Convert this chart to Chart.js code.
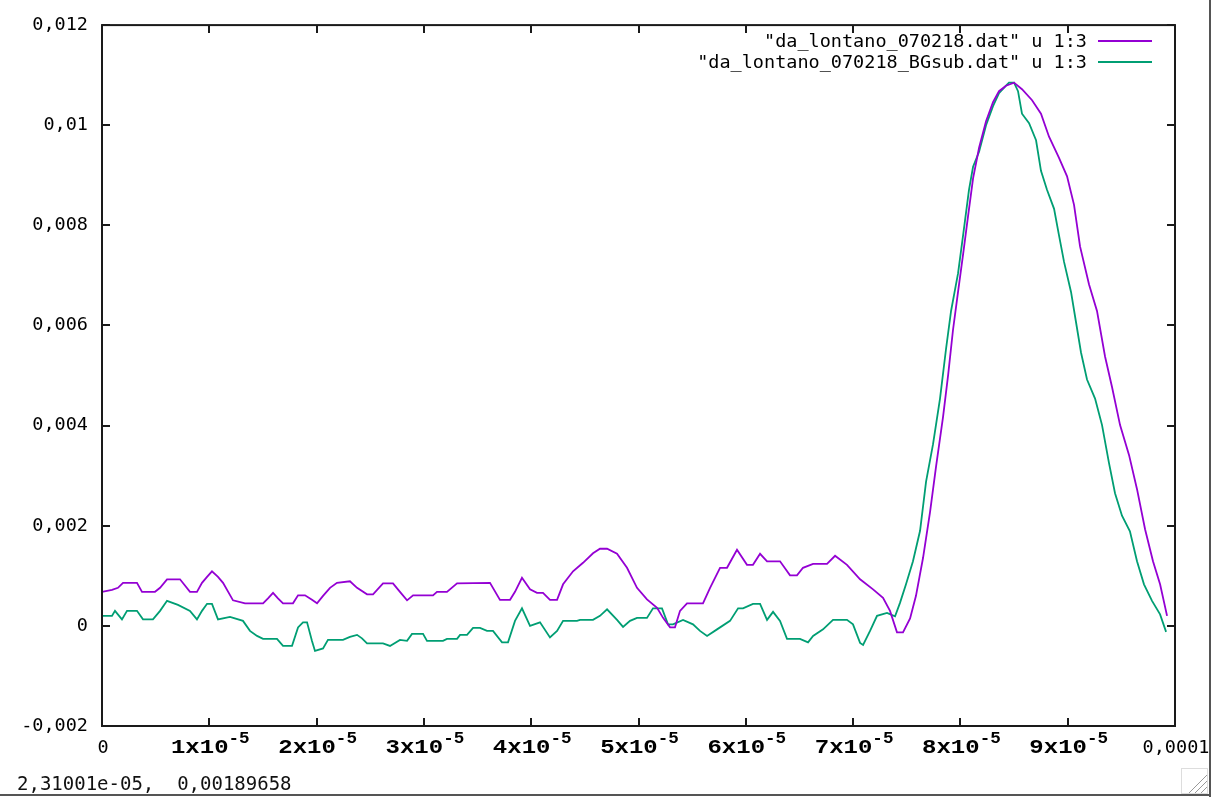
<!DOCTYPE html>
<html>
<head>
<meta charset="utf-8">
<script src="https://cdn.jsdelivr.net/npm/chart.js@4.4.1/dist/chart.umd.min.js"></script>
<style>
  html, body { margin: 0; padding: 0; background: #fff; }
  #wrap { width: 1217px; height: 797px; position: relative; }
</style>
</head>
<body>
<div id="wrap"><canvas id="c" width="1217" height="797"></canvas></div>
<script>
// ---- data (x in microseconds, y in signal units) ----
const seriesNames = ['"da_lontano_070218.dat" u 1:3', '"da_lontano_070218_BGsub.dat" u 1:3'];
const seriesColors = ['#9400d3', '#009e73'];

const xPurple = [0.00,0.93,1.49,1.96,3.26,3.73,4.94,5.41,6.06,7.27,8.20,8.85,9.32,9.79,10.25,10.81,11.28,12.21,13.33,15.01,15.47,15.94,16.40,16.87,17.80,18.27,18.92,19.57,20.04,20.60,21.25,21.90,23.11,23.77,24.70,25.26,26.19,27.12,27.77,28.43,28.99,30.85,31.22,32.15,33.09,36.16,37.09,38.03,38.49,39.14,39.89,40.54,41.10,41.75,42.41,42.97,43.90,44.83,45.76,46.41,47.07,48.00,48.93,49.86,50.79,51.73,52.29,52.94,53.40,53.87,54.52,56.01,56.67,57.60,58.25,59.18,60.11,60.67,61.33,61.98,63.19,64.12,64.77,65.33,66.27,67.57,68.32,69.43,70.65,71.86,72.79,73.44,74.09,74.65,75.31,75.86,76.52,77.17,77.73,78.38,78.85,79.31,79.78,80.25,80.71,81.18,81.74,82.39,83.04,83.60,84.25,85.00,85.74,86.68,87.51,88.26,89.19,89.94,90.59,91.15,91.99,92.73,93.48,94.13,94.88,95.72,96.46,97.21,97.95,98.61,99.26];
const yPurple = [0.00068,0.00072,0.00076,0.00086,0.00086,0.00068,0.00068,0.00076,0.00093,0.00093,0.00068,0.00068,0.00086,0.00098,0.00109,0.00098,0.00086,0.00051,0.00045,0.00045,0.00055,0.00066,0.00055,0.00045,0.00045,0.00061,0.00061,0.00052,0.00045,0.00060,0.00076,0.00086,0.00089,0.00076,0.00063,0.00063,0.00085,0.00085,0.00068,0.00051,0.00061,0.00061,0.00068,0.00068,0.00085,0.00086,0.00052,0.00052,0.00068,0.00096,0.00073,0.00066,0.00066,0.00052,0.00052,0.00083,0.00109,0.00126,0.00145,0.00154,0.00154,0.00144,0.00116,0.00076,0.00053,0.00036,0.00016,-0.00003,-0.00003,0.00030,0.00045,0.00045,0.00076,0.00116,0.00116,0.00152,0.00122,0.00122,0.00144,0.00129,0.00129,0.00101,0.00101,0.00116,0.00124,0.00124,0.00140,0.00122,0.00093,0.00073,0.00056,0.00030,-0.00013,-0.00013,0.00015,0.00060,0.00136,0.00227,0.00318,0.00417,0.00500,0.00591,0.00667,0.00742,0.00818,0.00894,0.00955,0.01008,0.01046,0.01068,0.01079,0.01085,0.01072,0.01050,0.01023,0.00977,0.00935,0.00898,0.00841,0.00758,0.00682,0.00629,0.00538,0.00477,0.00401,0.00341,0.00273,0.00193,0.00129,0.00083,0.00020];

const xGreen = [0.00,0.93,1.21,1.86,2.33,3.26,3.82,4.75,5.41,6.06,7.08,8.20,8.85,9.32,9.79,10.25,10.81,11.93,13.14,13.79,14.45,15.01,16.31,16.87,17.71,18.27,18.73,19.11,19.57,19.85,20.60,21.06,22.46,23.11,23.77,24.23,24.70,26.19,26.84,27.77,28.43,28.89,29.92,30.29,31.78,32.15,33.09,33.37,34.02,34.58,35.23,35.88,36.44,37.28,37.84,38.49,39.14,39.89,40.82,41.75,42.41,42.97,44.27,44.55,45.76,46.41,47.07,48.00,48.56,49.21,49.86,50.79,51.35,52.19,52.75,53.22,54.15,55.08,55.73,56.39,57.32,58.53,59.28,59.74,60.67,61.33,61.98,62.54,63.19,63.84,65.05,65.80,66.27,67.20,68.13,69.43,69.99,70.65,70.93,71.58,72.23,73.16,73.91,74.37,74.93,75.58,76.24,76.80,77.45,78.10,78.66,79.13,79.78,80.25,80.80,81.18,81.74,82.39,83.04,83.60,84.25,84.53,85.00,85.37,85.74,86.40,87.05,87.51,88.07,88.73,89.19,89.66,90.31,90.78,91.24,91.80,92.55,93.20,93.85,94.41,95.06,95.80,96.46,97.11,97.86,98.61,99.17];
const yGreen = [0.00020,0.00020,0.00030,0.00013,0.00030,0.00030,0.00013,0.00013,0.00030,0.00050,0.00042,0.00030,0.00013,0.00030,0.00044,0.00044,0.00013,0.00018,0.00010,-0.00010,-0.00020,-0.00026,-0.00026,-0.00040,-0.00040,-0.00003,0.00007,0.00007,-0.00030,-0.00050,-0.00045,-0.00028,-0.00028,-0.00022,-0.00018,-0.00025,-0.00035,-0.00035,-0.00040,-0.00028,-0.00030,-0.00016,-0.00016,-0.00030,-0.00030,-0.00026,-0.00026,-0.00018,-0.00018,-0.00004,-0.00004,-0.00010,-0.00010,-0.00033,-0.00033,0.00010,0.00035,0.00000,0.00007,-0.00023,-0.00010,0.00010,0.00010,0.00012,0.00012,0.00020,0.00033,0.00012,-0.00002,0.00010,0.00016,0.00016,0.00035,0.00035,0.00003,0.00003,0.00012,0.00003,-0.00010,-0.00020,-0.00007,0.00010,0.00035,0.00035,0.00044,0.00044,0.00012,0.00028,0.00010,-0.00026,-0.00026,-0.00033,-0.00020,-0.00007,0.00012,0.00012,0.00003,-0.00034,-0.00038,-0.00010,0.00020,0.00026,0.00019,0.00046,0.00083,0.00129,0.00190,0.00288,0.00363,0.00454,0.00553,0.00629,0.00704,0.00780,0.00871,0.00917,0.00947,0.01000,0.01038,0.01064,0.01079,0.01085,0.01085,0.01068,0.01023,0.01004,0.00970,0.00909,0.00871,0.00833,0.00780,0.00727,0.00667,0.00606,0.00546,0.00492,0.00454,0.00401,0.00325,0.00265,0.00220,0.00189,0.00129,0.00083,0.00050,0.00023,-0.00012];

const yTickValues = [-0.002, 0, 0.002, 0.004, 0.006, 0.008, 0.01, 0.012];
const yTickLabels = ['-0,002', '0', '0,002', '0,004', '0,006', '0,008', '0,01', '0,012'];
const xTickValues = [0, 10, 20, 30, 40, 50, 60, 70, 80, 90, 100];
const xTickMantissa = ['0', '1x10', '2x10', '3x10', '4x10', '5x10', '6x10', '7x10', '8x10', '9x10', '0,0001'];
const xTickExponent = ['', '-5', '-5', '-5', '-5', '-5', '-5', '-5', '-5', '-5', ''];
const statusText = '2,31001e-05,  0,00189658';

const FONT = '"DejaVu Sans Mono", monospace';

function toPoints(xs, ys) { return xs.map((x, i) => ({ x: x, y: ys[i] })); }

const frame = {
  id: 'gnuplotFrame',
  afterDraw(chart) {
    const ctx = chart.ctx;
    const a = chart.chartArea;
    const xs = chart.scales.x, ys = chart.scales.y;
    ctx.save();
    // border
    ctx.strokeStyle = '#1a1a1a';
    ctx.lineWidth = 2;
    ctx.strokeRect(a.left, a.top, a.right - a.left, a.bottom - a.top);
    // ticks
    ctx.lineWidth = 2;
    ctx.beginPath();
    const tl = 8;
    yTickValues.forEach(v => {
      const py = Math.round(ys.getPixelForValue(v));
      ctx.moveTo(a.left, py); ctx.lineTo(a.left + tl, py);
      ctx.moveTo(a.right, py); ctx.lineTo(a.right - tl, py);
    });
    xTickValues.forEach(v => {
      const px = Math.round(xs.getPixelForValue(v));
      ctx.moveTo(px, a.bottom); ctx.lineTo(px, a.bottom - tl);
      ctx.moveTo(px, a.top); ctx.lineTo(px, a.top + tl);
    });
    ctx.stroke();

    // x tick labels
    ctx.fillStyle = '#000';
    xTickValues.forEach((v, i) => {
      const px = xs.getPixelForValue(v);
      if (!xTickExponent[i]) {
        ctx.font = '18.5px ' + FONT;
        ctx.textAlign = 'center';
        ctx.textBaseline = 'alphabetic';
        ctx.fillText(xTickMantissa[i], px + 1, 753);
      } else {
        const sx = 1.2;
        ctx.font = 'bold 20px "Liberation Mono", monospace';
        const mw = ctx.measureText(xTickMantissa[i]).width * sx;
        ctx.font = 'bold 16px "Liberation Mono", monospace';
        const ew = ctx.measureText(xTickExponent[i]).width * 1.1;
        const start = px - (mw + ew) / 2 + 1;
        ctx.save();
        ctx.translate(start, 753);
        ctx.scale(sx, 1);
        ctx.font = 'bold 20px "Liberation Mono", monospace';
        ctx.textAlign = 'left';
        ctx.textBaseline = 'alphabetic';
        ctx.fillText(xTickMantissa[i], 0, 0);
        ctx.restore();
        ctx.save();
        ctx.translate(start + mw, 743);
        ctx.scale(1.1, 1);
        ctx.font = 'bold 16px "Liberation Mono", monospace';
        ctx.textAlign = 'left';
        ctx.fillText(xTickExponent[i], 0, 0);
        ctx.restore();
      }
    });

    // legend
    ctx.font = '18.5px ' + FONT;
    ctx.textAlign = 'right';
    ctx.textBaseline = 'middle';
    const rows = [41, 62];
    chart.data.datasets.forEach((ds, i) => {
      ctx.fillStyle = '#000';
      ctx.fillText(ds.label, 1087, rows[i] + 1);
      ctx.strokeStyle = ds.borderColor;
      ctx.lineWidth = 2;
      ctx.beginPath();
      ctx.moveTo(1098, rows[i]); ctx.lineTo(1152, rows[i]);
      ctx.stroke();
    });

    // status line
    ctx.fillStyle = '#111';
    ctx.font = '19px ' + FONT;
    ctx.textAlign = 'left';
    ctx.textBaseline = 'alphabetic';
    ctx.fillText(statusText, 17, 790);

    // window edges
    ctx.strokeStyle = '#555';
    ctx.lineWidth = 2;
    ctx.beginPath();
    ctx.moveTo(1210, 0); ctx.lineTo(1210, 797);
    ctx.moveTo(0, 795); ctx.lineTo(1210, 795);
    ctx.stroke();
    // resize grip
    ctx.strokeStyle = '#ddd';
    ctx.lineWidth = 1;
    ctx.strokeRect(1181.5, 768.5, 26, 25);
    ctx.strokeStyle = '#999';
    ctx.beginPath();
    for (let k = 0; k < 3; k++) {
      const o = 6 + k * 6;
      ctx.moveTo(1207 - o, 793); ctx.lineTo(1207, 793 - o);
    }
    ctx.stroke();
    ctx.restore();
  }
};

new Chart(document.getElementById('c'), {
  type: 'line',
  data: {
    datasets: [
      { label: seriesNames[0], data: toPoints(xPurple, yPurple), borderColor: seriesColors[0], borderWidth: 1.8, pointRadius: 0, fill: false, tension: 0 },
      { label: seriesNames[1], data: toPoints(xGreen, yGreen), borderColor: seriesColors[1], borderWidth: 1.8, pointRadius: 0, fill: false, tension: 0 }
    ]
  },
  options: {
    responsive: false,
    animation: false,
    events: [],
    layout: { padding: { top: 20, right: 42, left: 0, bottom: 0 } },
    plugins: { legend: { display: false }, tooltip: { enabled: false } },
    scales: {
      x: {
        type: 'linear', min: 0, max: 100,
        grid: { display: false, drawTicks: false },
        border: { display: false },
        ticks: { display: false },
        afterFit(s) { s.height = 71; }
      },
      y: {
        type: 'linear', min: -0.002, max: 0.012,
        grid: { display: false, drawTicks: false },
        border: { display: false },
        afterBuildTicks(s) { s.ticks = yTickValues.map(v => ({ value: v })); },
        ticks: {
          padding: 14,
          color: '#000',
          font: { family: FONT, size: 18.5 },
          callback: (v, i) => yTickLabels[i]
        },
        afterFit(s) { s.width = 102; }
      }
    }
  },
  plugins: [frame]
});
</script>
</body>
</html>
